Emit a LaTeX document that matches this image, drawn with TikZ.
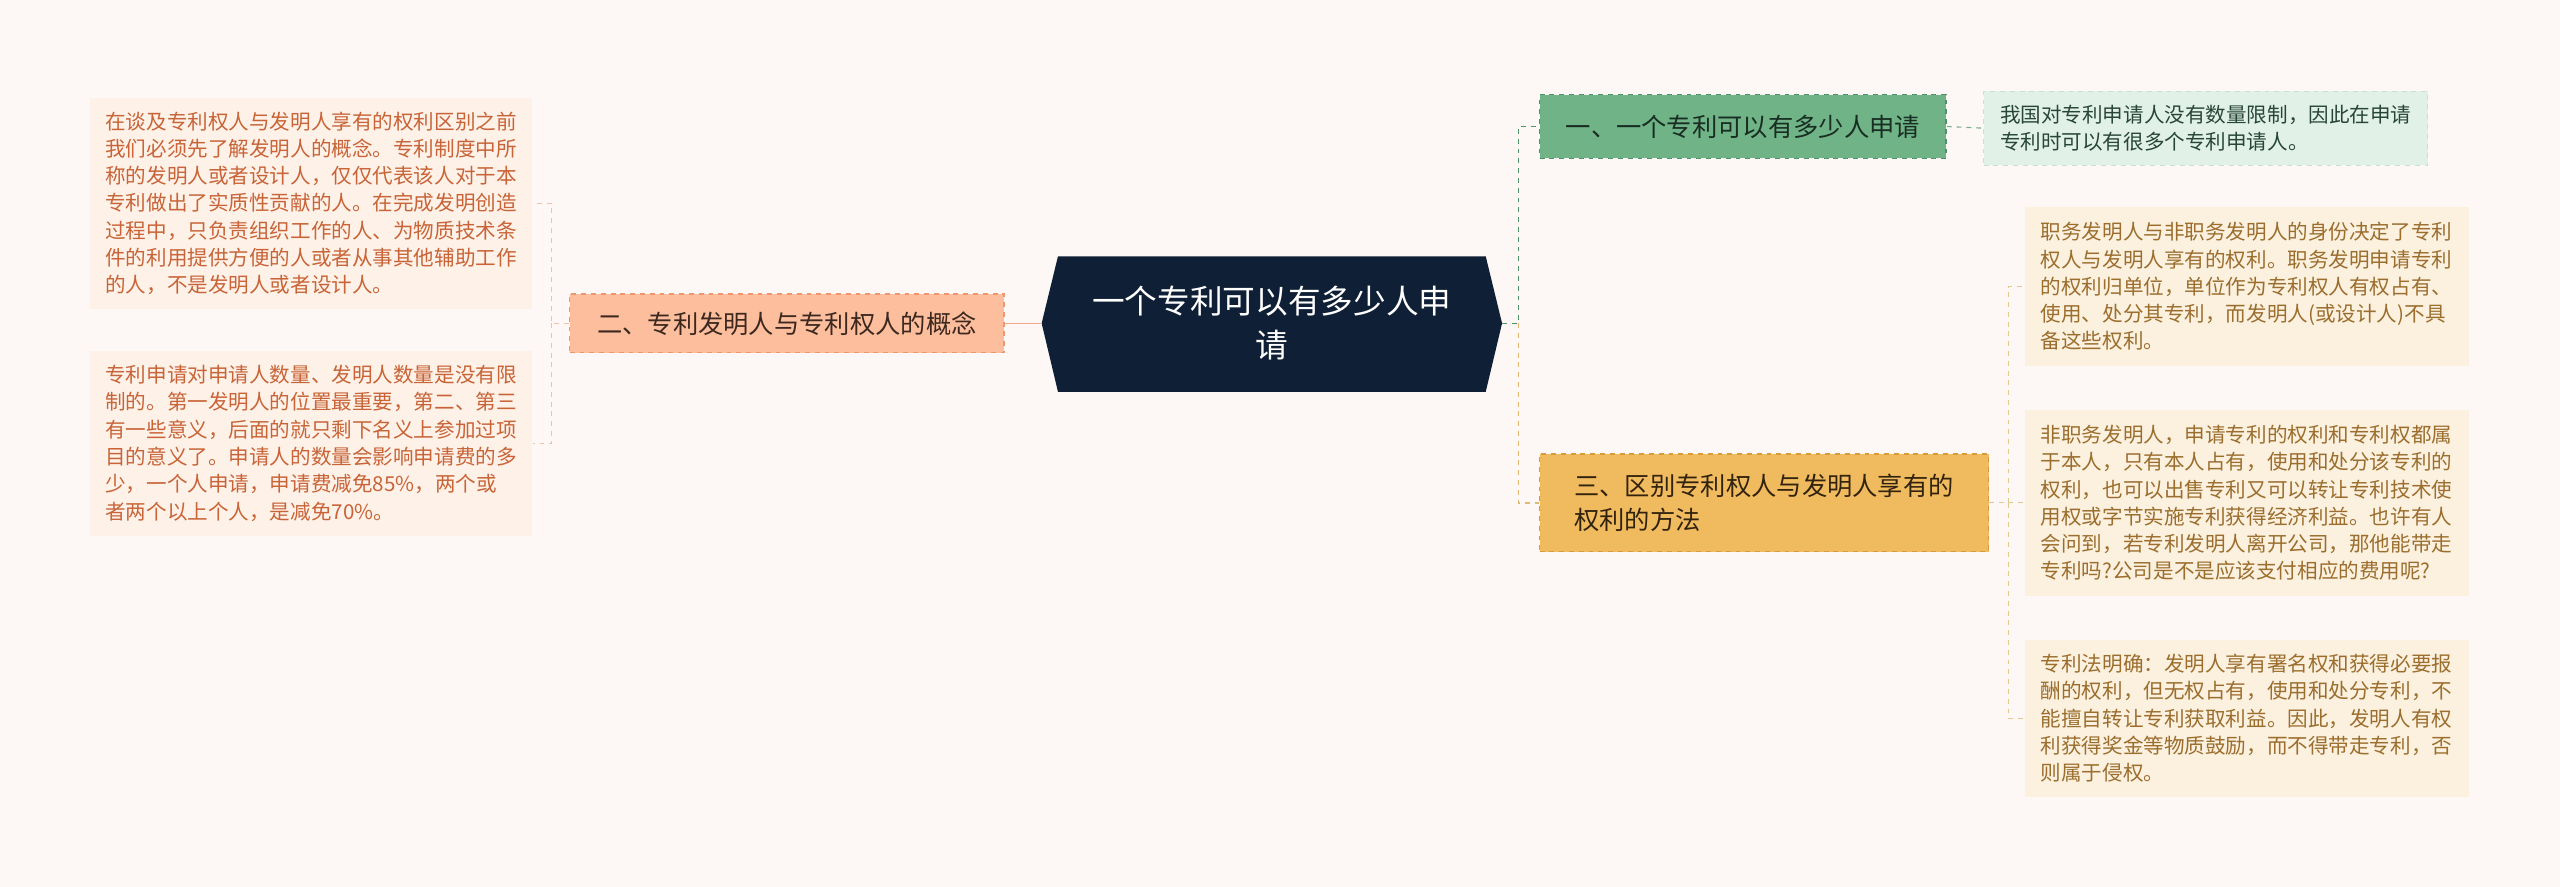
\documentclass[tikz,border=0pt]{standalone}
\usepackage{fontspec}
\setmainfont{Noto Sans CJK SC}
\definecolor{bg}{RGB}{253,248,246}
\definecolor{rootc}{RGB}{15,31,53}
\definecolor{salfill}{RGB}{253,190,158}
\definecolor{saldraw}{RGB}{240,150,110}
\definecolor{saltext}{RGB}{60,40,30}
\definecolor{lleaf}{RGB}{254,241,232}
\definecolor{lleaftext}{RGB}{200,100,55}
\definecolor{salline}{RGB}{245,170,140}
\definecolor{salline2}{RGB}{245,190,165}
\definecolor{gfill}{RGB}{111,179,134}
\definecolor{gdraw}{RGB}{80,145,105}
\definecolor{gtext}{RGB}{25,45,35}
\definecolor{gleaf}{RGB}{226,241,232}
\definecolor{gleafdraw}{RGB}{200,225,210}
\definecolor{gleaftext}{RGB}{40,70,55}
\definecolor{gline}{RGB}{120,175,140}
\definecolor{yfill}{RGB}{240,186,94}
\definecolor{ydraw}{RGB}{215,155,60}
\definecolor{ytext}{RGB}{50,35,15}
\definecolor{yline}{RGB}{225,185,110}
\definecolor{yleaf}{RGB}{252,240,222}
\definecolor{yleaftext}{RGB}{155,110,46}
\definecolor{yline2}{RGB}{230,200,140}
\begin{document}
\begin{tikzpicture}[x=1pt,y=1pt,
 leaf/.style={rectangle,inner sep=0pt,align=left,font=\fontsize{12.6}{16.7}\selectfont},
 branch/.style={rectangle,inner sep=0pt,align=left,dashed,line width=0.8pt,font=\fontsize{15.5}{21}\selectfont}]
\fill[bg] (0,0) rectangle (1568,-543);
\useasboundingbox (0,0) rectangle (1568,-543);
% root
\fill[rootc] (638,-198) -- (648,-157) -- (910,-157) -- (920,-198) -- (910,-240) -- (648,-240) -- cycle;
\node[text=white,align=center,font=\fontsize{20}{27}\selectfont] (root) at (779,-198) {一个专利可以有多少人申\\请};
\coordinate (rootL) at (638,-198);
\coordinate (rootR) at (920,-198);
% left branch
\node[branch,fill=salfill,draw=saldraw,minimum width=266,minimum height=36,text=saltext] (b2) at (482,-198) {二、专利发明人与专利权人的概念};
\node[leaf,fill=lleaf,text=lleaftext,minimum width=271,minimum height=129] (l1) at (190.5,-124.5) {在谈及专利权人与发明人享有的权利区别之前\\我们必须先了解发明人的概念。专利制度中所\\称的发明人或者设计人，仅仅代表该人对于本\\专利做出了实质性贡献的人。在完成发明创造\\过程中，只负责组织工作的人、为物质技术条\\件的利用提供方便的人或者从事其他辅助工作\\的人，不是发明人或者设计人。};
\node[leaf,fill=lleaf,text=lleaftext,minimum width=271,minimum height=113] (l2) at (190.5,-271.5) {专利申请对申请人数量、发明人数量是没有限\\制的。第一发明人的位置最重要，第二、第三\\有一些意义，后面的就只剩下名义上参加过项\\目的意义了。申请人的数量会影响申请费的多\\少，一个人申请，申请费减免85\%，两个或\\者两个以上个人，是减免70\%。};
\draw[salline,line width=0.8pt] (rootL) -- (b2.east);
\draw[salline2,dashed,line width=0.7pt] (b2.west) -- (338,-198) |- (l1.east);
\draw[salline2,dashed,line width=0.7pt] (338,-198) |- (l2.east);
% right branch 1
\node[branch,fill=gfill,draw=gdraw,minimum width=249,minimum height=39,text=gtext] (b1) at (1067.5,-77.5) {一、一个专利可以有多少人申请};
\node[leaf,fill=gleaf,draw=gleafdraw,dashed,text=gleaftext,minimum width=272,minimum height=45] (r0) at (1351,-78.5) {我国对专利申请人没有数量限制，因此在申请\\专利时可以有很多个专利申请人。};
\draw[gdraw,dashed,line width=0.8pt] (rootR) -- (930,-198) |- (b1.west);
\draw[gline,dashed,line width=0.7pt] (b1.east) -- (r0.west);
% right branch 3
\node[branch,fill=yfill,draw=ydraw,minimum width=275,minimum height=60,text=ytext] (b3) at (1080.5,-308) {三、区别专利权人与发明人享有的\\权利的方法};
\draw[yline,dashed,line width=0.8pt] (930,-198) |- (b3.west);
\foreach \n/\y/\h/\t in {r1/175.5/97/{职务发明人与非职务发明人的身份决定了专利\\权人与发明人享有的权利。职务发明申请专利\\的权利归单位，单位作为专利权人有权占有、\\使用、处分其专利，而发明人(或设计人)不具\\备这些权利。},
 r2/308/114/{非职务发明人，申请专利的权利和专利权都属\\于本人，只有本人占有，使用和处分该专利的\\权利，也可以出售专利又可以转让专利技术使\\用权或字节实施专利获得经济利益。也许有人\\会问到，若专利发明人离开公司，那他能带走\\专利吗?公司是不是应该支付相应的费用呢?},
 r3/440/96/{专利法明确：发明人享有署名权和获得必要报\\酬的权利，但无权占有，使用和处分专利，不\\能擅自转让专利获取利益。因此，发明人有权\\利获得奖金等物质鼓励，而不得带走专利，否\\则属于侵权。}}{
 \node[leaf,fill=yleaf,text=yleaftext,minimum width=272,minimum height=\h] (\n) at (1376,-\y) {\t};
 \draw[yline2,dashed,line width=0.7pt] (1230,-308) |- (\n.west);
}
\draw[yline2,dashed,line width=0.7pt] (b3.east) -- (1230,-308);
\end{tikzpicture}
\end{document}
